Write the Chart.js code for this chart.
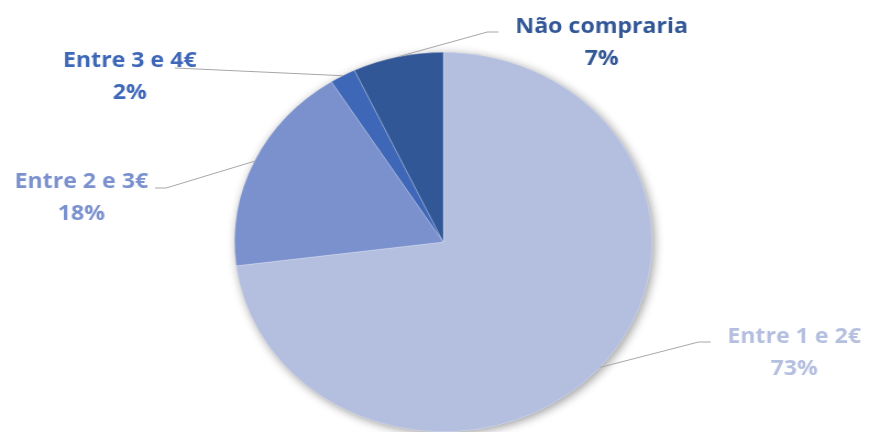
<!DOCTYPE html>
<html>
<head>
<meta charset="utf-8">
<script src="https://cdn.jsdelivr.net/npm/chart.js@4/dist/chart.umd.min.js"></script>
<style>
    html, body { margin: 0; padding: 0; background: #fff; overflow: hidden; }
    /* the chart is drawn at 790px and stretched to 869px wide */
    .grafico { width: 790px; height: 432px; transform: scaleX(1.1); transform-origin: 0 0; }
    #graficoPizza { display: block; }
</style>
</head>
<body>
<div class="grafico">
    <canvas id="graficoPizza" width="790" height="432"></canvas>
</div>
<script>
const categorias = ['Entre 1 e 2€', 'Entre 2 e 3€', 'Entre 3 e 4€', 'Não compraria'];
const valores = [73, 18, 2, 7];
const cores = ['#B4BFDF', '#7A91CE', '#3E67B8', '#325796'];

// where each label sits (centre x, first baseline) and the leader line bends
const rotulos = [
    { x: 722, y: 343, linha: [[635, 342], [646, 342]] },
    { x: 74, y: 188, linha: [[151, 188], [141, 188]] },
    { x: 118, y: 67, linha: [[159, 68]] },
    { x: 547, y: 33, linha: [[443, 32], [453, 32]] }
];

// soft shadow under the whole pie
const sombra = {
    id: 'sombra',
    beforeDatasetsDraw(chart) {
        const arc = chart.getDatasetMeta(0).data[0];
        if (!arc) return;
        const ctx = chart.ctx;
        ctx.save();
        ctx.shadowColor = 'rgba(0,0,0,0.4)';
        ctx.shadowBlur = 10;
        ctx.shadowOffsetX = 2;
        ctx.shadowOffsetY = 2;
        ctx.fillStyle = cores[0];
        ctx.beginPath();
        ctx.arc(arc.x, arc.y, arc.outerRadius, 0, Math.PI * 2);
        ctx.fill();
        ctx.restore();
    }
};

// category + percentage labels with leader lines
const rotulosPizza = {
    id: 'rotulosPizza',
    afterDatasetsDraw(chart) {
        const ctx = chart.ctx;
        const dados = chart.data.datasets[0].data;
        const total = dados.reduce((a, b) => a + b, 0);
        chart.getDatasetMeta(0).data.forEach((arc, i) => {
            const r = rotulos[i];
            const meio = (arc.startAngle + arc.endAngle) / 2;
            const ax = arc.x + Math.cos(meio) * arc.outerRadius;
            const ay = arc.y + Math.sin(meio) * arc.outerRadius;

            ctx.save();
            ctx.strokeStyle = '#A6A6A6';
            ctx.lineWidth = 1;
            ctx.beginPath();
            ctx.moveTo(ax, ay);
            r.linha.forEach(p => ctx.lineTo(p[0], p[1]));
            ctx.stroke();

            ctx.fillStyle = cores[i];
            ctx.font = 'bold 21px "Open Sans"';
            ctx.textAlign = 'center';
            ctx.textBaseline = 'alphabetic';
            ctx.fillText(chart.data.labels[i], r.x, r.y);
            ctx.fillText(Math.round(dados[i] / total * 100) + '%', r.x, r.y + 32);
            ctx.restore();
        });
    }
};

new Chart(document.getElementById('graficoPizza'), {
    type: 'pie',
    data: {
        labels: categorias,
        datasets: [{
            data: valores,
            backgroundColor: cores,
            borderColor: 'rgba(255,255,255,0.5)',
            borderWidth: 0.5
        }]
    },
    options: {
        responsive: false,
        animation: false,
        layout: {
            padding: { top: 52, bottom: 0, left: 16, right: 0 }
        },
        plugins: {
            legend: { display: false },
            tooltip: { enabled: false }
        }
    },
    plugins: [sombra, rotulosPizza]
});
</script>
</body>
</html>
